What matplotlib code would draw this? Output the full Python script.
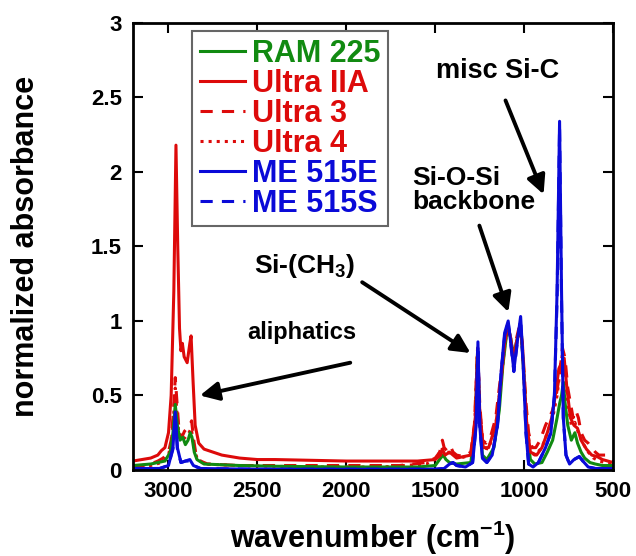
import matplotlib
matplotlib.use("Agg")
import matplotlib.pyplot as plt

plt.rcParams['font.family'] = ['Liberation Sans', 'DejaVu Sans']
plt.rcParams['font.weight'] = 'bold'
plt.rcParams['mathtext.fontset'] = 'custom'
plt.rcParams['mathtext.rm'] = 'Liberation Sans:bold'
plt.rcParams['mathtext.bf'] = 'Liberation Sans:bold'
plt.rcParams['mathtext.default'] = 'bf'

# spectra: (wavenumber, normalized absorbance)
ram225_wn = [3200, 3100, 3020, 2990, 2975, 2962, 2950, 2935, 2920, 2905, 2890, 2878, 2868, 2855,
             2840, 2800, 2600, 2400, 2000, 1600, 1500, 1470, 1455, 1440, 1420, 1380, 1300, 1275,
             1262, 1250, 1235, 1210, 1170, 1140, 1120, 1100, 1088, 1075, 1060, 1045, 1025, 1015,
             1000, 985, 965, 940, 900, 870, 840, 815, 800, 790, 780, 770, 755, 735, 715, 700,
             680, 660, 630, 600, 560, 500]
ram225_ab = [0.03, 0.04, 0.06, 0.12, 0.25, 0.44, 0.3, 0.2, 0.22, 0.17, 0.2, 0.25, 0.22, 0.12,
             0.07, 0.04, 0.03, 0.025, 0.02, 0.02, 0.03, 0.08, 0.1, 0.07, 0.05, 0.04, 0.05, 0.3,
             0.8, 0.35, 0.1, 0.07, 0.15, 0.4, 0.7, 0.9, 0.95, 0.88, 0.75, 0.85, 0.95, 0.9,
             0.6, 0.25, 0.07, 0.04, 0.05, 0.12, 0.2, 0.35, 0.45, 0.5, 0.59, 0.45, 0.3, 0.2, 0.25, 0.18,
             0.12, 0.08, 0.05, 0.04, 0.03, 0.03]

ultra2a_wn = [3200, 3150, 3100, 3060, 3040, 3020, 3000, 2985, 2970, 2958, 2948, 2938, 2930, 2922,
              2912, 2895, 2880, 2873, 2862, 2850, 2830, 2800, 2750, 2700, 2600, 2500, 2400, 2200,
              2000, 1800, 1600, 1500, 1470, 1460, 1445, 1420, 1400, 1380, 1340, 1300, 1275, 1262,
              1250, 1230, 1200, 1160, 1130, 1110, 1092, 1075, 1060, 1045, 1022, 1010, 1000, 985,
              965, 930, 900, 870, 845, 825, 805, 790, 775, 760, 740, 720, 700, 680, 650, 620,
              590, 560, 530, 500]
ultra2a_ab = [0.06, 0.07, 0.08, 0.1, 0.13, 0.15, 0.25, 0.5, 1.2, 2.18, 1.5, 0.95, 0.8, 0.85,
              0.76, 0.72, 0.85, 0.9, 0.6, 0.3, 0.18, 0.14, 0.12, 0.1, 0.08, 0.07, 0.07, 0.065,
              0.06, 0.06, 0.06, 0.07, 0.1, 0.14, 0.1, 0.12, 0.1, 0.08, 0.09, 0.1, 0.35, 0.8,
              0.4, 0.15, 0.15, 0.3, 0.6, 0.85, 0.97, 0.88, 0.72, 0.85, 0.96, 0.85, 0.6, 0.3,
              0.12, 0.1, 0.15, 0.25, 0.35, 0.5, 0.68, 0.72, 0.75, 0.55, 0.35, 0.3, 0.28, 0.2, 0.14, 0.1,
              0.09, 0.07, 0.06, 0.05]

ultra3_wn = [3200, 3100, 3060, 3030, 3000, 2985, 2972, 2962, 2952, 2940, 2925, 2910, 2895, 2880,
             2870, 2858, 2845, 2820, 2780, 2600, 2400, 2000, 1700, 1550, 1500, 1475, 1460, 1450,
             1435, 1415, 1400, 1380, 1340, 1300, 1280, 1262, 1250, 1235, 1215, 1190, 1160, 1130,
             1110, 1095, 1080, 1065, 1050, 1030, 1018, 1005, 990, 975, 955, 935, 910, 880, 860,
             840, 820, 800, 785, 770, 755, 740, 725, 710, 695, 680, 660, 640, 620, 600, 580,
             560, 540, 520, 500]
ultra3_ab = [0.02, 0.04, 0.06, 0.08, 0.12, 0.2, 0.4, 0.62, 0.45, 0.25, 0.22, 0.26, 0.28, 0.3,
             0.33, 0.2, 0.1, 0.06, 0.04, 0.03, 0.03, 0.03, 0.03, 0.05, 0.08, 0.12, 0.2, 0.15,
             0.13, 0.16, 0.12, 0.1, 0.09, 0.12, 0.3, 0.82, 0.45, 0.2, 0.18, 0.22, 0.35, 0.65,
             0.88, 0.97, 0.9, 0.8, 0.85, 0.95, 0.92, 0.75, 0.45, 0.25, 0.15, 0.15, 0.2, 0.3, 0.35,
             0.4, 0.5, 0.65, 0.82, 0.75, 0.55, 0.45, 0.35, 0.4, 0.35, 0.25, 0.2, 0.18, 0.15, 0.12, 0.1,
             0.1, 0.1, 0.08, 0.07]

ultra4_wn = [3200, 3100, 3040, 3000, 2985, 2972, 2962, 2952, 2940, 2925, 2905, 2885, 2872, 2858,
             2840, 2800, 2600, 2200, 1800, 1550, 1490, 1465, 1450, 1430, 1400, 1360, 1300, 1278,
             1262, 1250, 1230, 1200, 1160, 1130, 1108, 1092, 1078, 1062, 1045, 1025, 1012, 1000,
             985, 965, 940, 900, 870, 840, 815, 800, 785, 770, 755, 735, 715, 695, 670, 640,
             610, 580, 540, 500]
ultra4_ab = [0.02, 0.03, 0.05, 0.1, 0.18, 0.35, 0.55, 0.38, 0.22, 0.2, 0.22, 0.25, 0.28, 0.16,
             0.08, 0.04, 0.03, 0.02, 0.02, 0.04, 0.08, 0.15, 0.12, 0.12, 0.1, 0.08, 0.1, 0.3,
             0.82, 0.4, 0.15, 0.14, 0.3, 0.6, 0.85, 0.95, 0.88, 0.75, 0.83, 0.93, 0.85, 0.6,
             0.3, 0.12, 0.1, 0.15, 0.25, 0.35, 0.5, 0.65, 0.78, 0.65, 0.45, 0.3, 0.32, 0.25, 0.18, 0.12,
             0.08, 0.06, 0.05, 0.04]

me515e_wn = [3200, 3050, 3000, 2975, 2962, 2950, 2930, 2905, 2880, 2860, 2820, 2500, 2000, 1500,
             1450, 1420, 1400, 1380, 1330, 1290, 1270, 1260, 1250, 1235, 1210, 1180, 1150, 1130,
             1110, 1090, 1075, 1058, 1040, 1020, 1005, 990, 975, 950, 920, 880, 865, 850, 830,
             815, 801, 790, 780, 765, 745, 720, 690, 670, 640, 600, 500]
me515e_ab = [0.01, 0.01, 0.03, 0.15, 0.39, 0.15, 0.05, 0.06, 0.07, 0.03, 0.01, 0.005, 0.005, 0.005,
             0.01, 0.04, 0.05, 0.03, 0.02, 0.05, 0.3, 0.86, 0.3, 0.08, 0.05, 0.1, 0.3, 0.65,
             0.92, 1.0, 0.85, 0.67, 0.85, 1.03, 0.7, 0.25, 0.04, 0.02, 0.05, 0.15, 0.2, 0.25, 0.5,
             1.2, 2.34, 1.2, 0.35, 0.1, 0.04, 0.07, 0.09, 0.06, 0.02, 0.01, 0.01]

me515s_wn = [3200, 3050, 3000, 2975, 2962, 2950, 2930, 2905, 2880, 2860, 2820, 2500, 2000, 1500,
             1450, 1420, 1400, 1380, 1330, 1290, 1270, 1260, 1250, 1235, 1210, 1180, 1150, 1130,
             1110, 1090, 1075, 1058, 1040, 1020, 1005, 990, 975, 950, 920, 880, 865, 850, 830,
             815, 801, 790, 780, 765, 745, 720, 690, 670, 640, 600, 500]
me515s_ab = [0.01, 0.01, 0.03, 0.14, 0.36, 0.14, 0.05, 0.06, 0.06, 0.03, 0.01, 0.005, 0.005, 0.005,
             0.01, 0.04, 0.05, 0.03, 0.02, 0.05, 0.3, 0.84, 0.3, 0.08, 0.05, 0.1, 0.3, 0.64,
             0.9, 0.99, 0.84, 0.66, 0.84, 1.01, 0.68, 0.25, 0.04, 0.02, 0.05, 0.15, 0.2, 0.25, 0.5,
             1.15, 2.3, 1.15, 0.35, 0.1, 0.04, 0.07, 0.09, 0.06, 0.02, 0.01, 0.01]

green = '#118a11'
red = '#dd0a0a'
blue = '#0a0ad8'

fig = plt.figure(figsize=(6.36, 5.56), dpi=100)
ax = fig.add_axes([0.209, 0.1547, 0.755, 0.804])

lw = 2.2
ax.plot(ultra4_wn, ultra4_ab, color=red, lw=lw, ls=':', label='Ultra 4')
ax.plot(ultra3_wn, ultra3_ab, color=red, lw=lw, ls=(0, (4, 3)), label='Ultra 3')
ax.plot(ram225_wn, ram225_ab, color=green, lw=lw, label='RAM 225')
ax.plot(ultra2a_wn, ultra2a_ab, color=red, lw=lw, label='Ultra IIA')
ax.plot(me515s_wn, me515s_ab, color=blue, lw=lw, ls=(0, (4, 3)), label='ME 515S')
ax.plot(me515e_wn, me515e_ab, color=blue, lw=lw, label='ME 515E')

ax.set_xlim(3200, 500)
ax.set_ylim(0, 3)
ax.set_xticks([3000, 2500, 2000, 1500, 1000, 500])
ax.set_yticks([0, 0.5, 1, 1.5, 2, 2.5, 3])
ax.set_yticklabels(['0', '0.5', '1', '1.5', '2', '2.5', '3'])
ax.tick_params(direction='in', length=7, width=1.5, labelsize=16, top=True, right=True, pad=8)
for s in ax.spines.values():
    s.set_linewidth(2)

ax.set_xlabel('wavenumber (cm$^{-1}$)', fontsize=22, fontweight='bold', va='center')
ax.xaxis.set_label_coords(0.5, -0.152)
ax.set_ylabel('normalized absorbance', fontsize=22, fontweight='bold', va='center')
ax.yaxis.set_label_coords(-0.223, 0.5)

# legend in the picture's order
handles, labels = ax.get_legend_handles_labels()
order = ['RAM 225', 'Ultra IIA', 'Ultra 3', 'Ultra 4', 'ME 515E', 'ME 515S']
hmap = dict(zip(labels, handles))
leg = ax.legend([hmap[k] for k in order], order, loc='upper left', bbox_to_anchor=(0.123, 0.982),
                borderaxespad=0, fontsize=22, labelspacing=0.0, handlelength=1.5, handletextpad=0.2,
                fancybox=False, edgecolor='#666666', framealpha=1, borderpad=0.25)
leg.get_frame().set_linewidth(1.5)
for t, c in zip(leg.get_texts(), [green, red, red, red, blue, blue]):
    t.set_color(c)
    t.set_fontweight('bold')

arrow = dict(arrowstyle='-|>', lw=2.8, color='k', mutation_scale=28, shrinkA=0, shrinkB=0)
ax.annotate('', xy=(2823, 0.50), xytext=(1978, 0.72), arrowprops=arrow)
ax.text(2249, 0.92, 'aliphatics', ha='center', va='center', fontsize=17, fontweight='bold')

ax.annotate('', xy=(1302, 0.785), xytext=(1911, 1.26), arrowprops=arrow)
ax.text(2232, 1.37, 'Si-(CH$_{3}$)', ha='center', va='center', fontsize=19, fontweight='bold')

ax.annotate('', xy=(1089, 1.06), xytext=(1252, 1.64), arrowprops=arrow)
ax.text(1629, 2.04, 'Si-O-Si\nbackbone', ha='left', va='top', fontsize=19, fontweight='bold',
        linespacing=1.0)

ax.annotate('', xy=(891, 1.85), xytext=(1105, 2.48), arrowprops=arrow)
ax.text(1150, 2.68, 'misc Si-C', ha='center', va='center', fontsize=19.5, fontweight='bold')

fig.savefig('out.png', dpi=100)
